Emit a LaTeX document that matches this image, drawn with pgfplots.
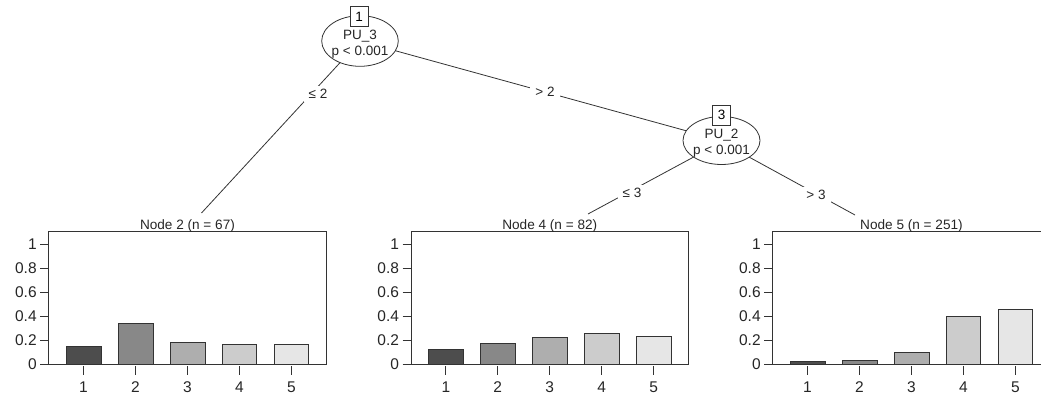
\documentclass[border=0pt]{standalone}
\usepackage{pgfplots}
\pgfplotsset{compat=1.18}
\usepackage{fontspec}
\setmainfont{Liberation Sans}
\definecolor{g1}{HTML}{4D4D4D}
\definecolor{g2}{HTML}{888888}
\definecolor{g3}{HTML}{AEAEAE}
\definecolor{g4}{HTML}{CCCCCC}
\definecolor{g5}{HTML}{E6E6E6}
\definecolor{fg}{HTML}{333333}
\pgfplotsset{
  leaf/.style={
    scale only axis, width=277.5pt, height=133pt,
    anchor=south west,
    xmin=0.33, xmax=5.67, ymin=0, ymax=1.11,
    xtick={1,2,3,4,5}, ytick={0,0.2,0.4,0.6,0.8,1},
    xtick pos=left, ytick pos=left,
    tick align=outside, major tick length=8.5pt,
    axis line style={fg, line width=0.8pt},
    every tick/.style={fg, line width=0.8pt},
    xtick style={yshift=-2pt},
    ticklabel style={font=\fontsize{15.5}{18}\selectfont, text=black!85},
    xticklabel style={yshift=-6pt},
    /pgf/number format/assume math mode=true,
    title style={at={(0.5,1)}, anchor=base, yshift=-4.5pt, inner sep=0pt,
      font=\fontsize{13.6}{16}\selectfont, text=black!85},
  },
  lb/.style={ybar, bar width=0.67, bar shift=0pt, draw=fg, line width=0.7pt},
}
\begin{document}
\begin{tikzpicture}[x=1pt,y=1pt]
\useasboundingbox (0,0) rectangle (1041,396);
% edges
\draw[fg, line width=0.8pt] (360,355) -- (201.5,183);
\draw[fg, line width=0.8pt] (360,355) -- (721.5,255.5);
\draw[fg, line width=0.8pt] (721.5,254) -- (588,182);
\draw[fg, line width=0.8pt] (721.5,254) -- (855,181);
% inner node 1
\draw[fg, line width=0.8pt, fill=white] (360,355) ellipse [x radius=38.3, y radius=25.3];
\node[draw=fg, fill=white, line width=0.8pt, minimum width=18pt, minimum height=20pt, inner sep=0pt, font=\fontsize{13.5}{16}\selectfont] at (359.2,379.3) {1};
\node[font=\fontsize{13.5}{16}\selectfont, text=black!85] at (360,360) {PU\_3};
\node[font=\fontsize{13.5}{16}\selectfont, text=black!85] at (360,344) {p < 0.001};
% inner node 3
\draw[fg, line width=0.8pt, fill=white] (721.5,255.5) ellipse [x radius=38.5, y radius=24];
\node[draw=fg, fill=white, line width=0.8pt, minimum width=18pt, minimum height=20pt, inner sep=0pt, font=\fontsize{13.5}{16}\selectfont] at (721.7,281) {3};
\node[font=\fontsize{13.5}{16}\selectfont, text=black!85] at (721.5,261) {PU\_2};
\node[font=\fontsize{13.5}{16}\selectfont, text=black!85] at (721.5,245) {p < 0.001};
% edge labels
\node[fill=white, inner xsep=5pt, inner ysep=3pt, font=\fontsize{13.5}{16}\selectfont, text=black!85] at (318,302) {≤ 2};
\node[fill=white, inner xsep=5pt, inner ysep=3pt, font=\fontsize{13.5}{16}\selectfont, text=black!85] at (545,304) {> 2};
\node[fill=white, inner xsep=5pt, inner ysep=3pt, font=\fontsize{13.5}{16}\selectfont, text=black!85] at (632,203) {≤ 3};
\node[fill=white, inner xsep=5pt, inner ysep=3pt, font=\fontsize{13.5}{16}\selectfont, text=black!85] at (816,201) {> 3};
% terminal node 2
\begin{axis}[leaf, at={(48.7pt,32pt)}, title={Node 2 (n = 67)}]
\addplot[lb, fill=g1] coordinates {(1,0.149)};
\addplot[lb, fill=g2] coordinates {(2,0.343)};
\addplot[lb, fill=g3] coordinates {(3,0.179)};
\addplot[lb, fill=g4] coordinates {(4,0.164)};
\addplot[lb, fill=g5] coordinates {(5,0.164)};
\end{axis}
% terminal node 4
\begin{axis}[leaf, at={(411pt,32pt)}, title={Node 4 (n = 82)}]
\addplot[lb, fill=g1] coordinates {(1,0.122)};
\addplot[lb, fill=g2] coordinates {(2,0.171)};
\addplot[lb, fill=g3] coordinates {(3,0.220)};
\addplot[lb, fill=g4] coordinates {(4,0.256)};
\addplot[lb, fill=g5] coordinates {(5,0.232)};
\end{axis}
% terminal node 5
\begin{axis}[leaf, at={(772.7pt,32pt)}, title={Node 5 (n = 251)}]
\addplot[lb, fill=g1] coordinates {(1,0.024)};
\addplot[lb, fill=g2] coordinates {(2,0.032)};
\addplot[lb, fill=g3] coordinates {(3,0.096)};
\addplot[lb, fill=g4] coordinates {(4,0.394)};
\addplot[lb, fill=g5] coordinates {(5,0.454)};
\end{axis}
\end{tikzpicture}
\end{document}
